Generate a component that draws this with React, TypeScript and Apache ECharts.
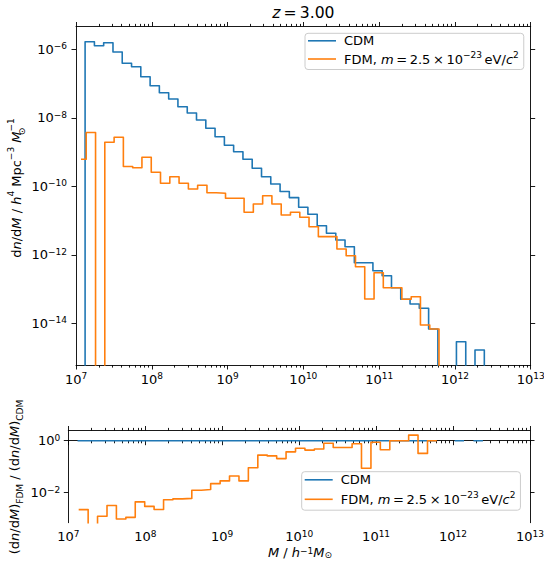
import React, { useEffect, useRef } from "react";
import * as echarts from "echarts";

// ---------- data (log10 values) ----------
// Bin edges, log10(M / h^-1 Msun)
const CDM_EDGES = [
  7.12, 7.243, 7.365, 7.488, 7.61, 7.733, 7.855, 7.978, 8.1, 8.223, 8.345,
  8.468, 8.59, 8.713, 8.835, 8.958, 9.08, 9.203, 9.325, 9.448, 9.57, 9.693,
  9.815, 9.938, 10.06, 10.183, 10.305, 10.428, 10.55, 10.673, 10.795, 10.918,
  11.04, 11.163, 11.285, 11.408, 11.53, 11.653, 11.775, 11.898, 12.02, 12.143,
  12.265, 12.388,
];
const FDM_EDGES = [
  7.135, 7.258, 7.38, 7.503, 7.625, 7.748, 7.87, 7.993, 8.115, 8.238, 8.36,
  8.483, 8.605, 8.728, 8.85, 8.973, 9.095, 9.218, 9.34, 9.463, 9.585, 9.708,
  9.83, 9.953, 10.075, 10.198, 10.32, 10.443, 10.565, 10.688, 10.81, 10.933,
  11.055, 11.178, 11.3, 11.423, 11.545, 11.668, 11.79,
];
// log10(dn/dM); null = empty bin
const CDM_LOG_DNDM: (number | null)[] = [
  -5.778, -5.895, -5.807, -6.079, -6.409, -6.508, -6.8, -7.063, -7.267, -7.451,
  -7.676, -7.86, -8.064, -8.307, -8.552, -8.803, -8.99, -9.212, -9.474, -9.72,
  -9.933, -10.15, -10.33, -10.613, -10.818, -11.15, -11.372, -11.568, -11.764,
  -12.231, -12.231, -12.464, -12.61, -12.961, -13.299, -13.437, -13.562,
  -14.166, null, null, -14.537, null, -14.779,
];
const FDM_LOG_DNDM: (number | null)[] = [
  -8.429, null, -8.715, -8.569, -9.422, -9.457, -9.153, -9.591, -9.912, -9.72,
  -9.912, -10.079, -9.971, -10.187, -10.204, -10.35, -10.35, -10.759, -10.517,
  -10.274, -10.517, -10.838, -10.759, -10.905, -11.18, -11.47, -11.47, -11.83,
  -12.026, -12.347, -13.29, -12.523, -12.961, -12.961, -13.3, -13.223, -14.05,
  -14.166,
];
// short leading FDM segment [log10 M start, log10 dn/dM]
const FDM_LEAD = [7.066, -9.212];

const TOP_Y_TICKS = [-14, -12, -10, -8, -6];
const RATIO_Y_TICKS = [-2, 0];

// ---------- styling ----------
const FONT = "DejaVu Sans";
const BLUE = "#1f77b4";
const ORANGE = "#ff7f0e";
const AX = "#000";
const FLOOR = -40; // below every axis: empty bins drop out of the plot

const rich = (lh: number, supLh = 11) => ({
  b: { fontFamily: FONT, fontSize: 13, lineHeight: lh, color: "#000", verticalAlign: "middle", fontWeight: "normal" },
  i: { fontFamily: FONT, fontSize: 13, lineHeight: lh, color: "#000", verticalAlign: "middle", fontStyle: "italic", fontWeight: "normal" },
  s: { fontFamily: FONT, fontSize: 9, lineHeight: supLh, color: "#000", verticalAlign: "top", fontWeight: "normal" },
  sub: { fontFamily: FONT, fontSize: 9, lineHeight: supLh, color: "#000", verticalAlign: "bottom", fontWeight: "normal" },
  sub0: { fontFamily: FONT, fontSize: 9, lineHeight: supLh, color: "#000", verticalAlign: "bottom", width: 0.1, fontWeight: "normal" },
});

const minorTicks: number[] = [];
for (let n = 7; n < 13; n++) for (let j = 2; j <= 9; j++) minorTicks.push(n + Math.log10(j));

const powLabel = (v: number) =>
  `{b|10}{s|${v < 0 ? "\u2212" + Math.abs(Math.round(v)) : Math.round(v)}}`;

function stepLine(edges: number[], vals: (number | null)[], lead?: number[]) {
  const pts: any[] = [];
  if (lead) pts.push([lead[0], lead[1]], [edges[0], lead[1]]);
  else pts.push([edges[0], FLOOR]);
  vals.forEach((v, i) => {
    const y = v == null ? FLOOR : v;
    pts.push([edges[i], y], [edges[i + 1], y]);
  });
  pts.push([edges[vals.length], FLOOR]);
  return pts;
}

// Ratio runs: contiguous bins where the CDM count is non-zero (ratio undefined elsewhere)
function ratioRuns(edges: number[], vals: (number | null)[], isFdm: boolean) {
  const runs: any[][] = [];
  let cur: any[] = [];
  vals.forEach((v, i) => {
    const c = CDM_LOG_DNDM[i];
    if (c == null) {
      if (cur.length) runs.push(cur);
      cur = [];
      return;
    }
    const y = isFdm ? (v == null ? FLOOR : v - c) : 0;
    cur.push([edges[i], y], [edges[i + 1], y]);
  });
  if (cur.length) runs.push(cur);
  return runs;
}

const tickStyle = (len: number) => ({ show: true, inside: false, length: len, lineStyle: { color: AX, width: 0.9 } });

function xAxes(grid: number) {
  const base = { type: "value", gridIndex: grid, min: 7, max: 13, interval: 1, splitLine: { show: false } };
  return [
    {
      ...base, position: "bottom",
      axisLine: { show: true, lineStyle: { color: AX, width: 0.9 } },
      axisTick: tickStyle(4.5),
      axisLabel: { show: true, margin: 6.5, formatter: (v: number) => powLabel(v), rich: rich(15, 8), showMinLabel: true, showMaxLabel: true },
    },
    {
      ...base, position: "bottom", axisLine: { show: false },
      axisTick: { ...tickStyle(2.6), customValues: minorTicks },
      axisLabel: { show: false },
    },
    {
      ...base, position: "top",
      axisLine: { show: true, lineStyle: { color: AX, width: 0.9 } },
      axisTick: tickStyle(4.5), axisLabel: { show: false },
    },
    {
      ...base, position: "top", axisLine: { show: false },
      axisTick: { ...tickStyle(2.6), customValues: minorTicks },
      axisLabel: { show: false },
    },
  ];
}

function yAxes(grid: number, min: number, max: number, ticks: number[], margin: number) {
  const base = { type: "value", gridIndex: grid, min, max, splitLine: { show: false } };
  return [
    {
      ...base, position: "left",
      axisLine: { show: true, lineStyle: { color: AX, width: 0.9 } },
      axisTick: { ...tickStyle(4.5), customValues: ticks },
      axisLabel: { show: true, margin, customValues: ticks, formatter: (v: number) => powLabel(v), rich: rich(15, 8) },
    },
    {
      ...base, position: "right",
      axisLine: { show: true, lineStyle: { color: AX, width: 0.9 } },
      axisTick: { ...tickStyle(4.5), customValues: ticks },
      axisLabel: { show: false },
    },
  ];
}

const lineSeries = (name: string, color: string, xi: number, yi: number, data: any[], z: number) => ({
  name, type: "line", xAxisIndex: xi, yAxisIndex: yi, data,
  showSymbol: false, symbol: "none", connectNulls: false, clip: true, z,
  lineStyle: { color, width: 1.6, join: "round" }, itemStyle: { color },
  emphasis: { disabled: true },
});

const fdmLegend = "{b|FDM, }{i|m}{b|\u2009=\u20092.5\u2009\u00d7\u200910}{s|\u221223}{b|\u2009eV/}{i|c}{s|2}";

const legendBase = (left: number, top: number, gap: number, pad: number[]) => ({
  data: ["CDM", "FDM"], left, top, orient: "vertical",
  icon: "rect", itemWidth: 28, itemHeight: 1.6, itemGap: gap, padding: pad,
  borderColor: "#cccccc", borderWidth: 1, borderRadius: 3,
  backgroundColor: "rgba(255,255,255,0.8)", selectedMode: false,
  formatter: (n: string) => (n === "CDM" ? "{b|CDM}" : fdmLegend),
  textStyle: { fontFamily: FONT, fontSize: 13, color: "#000", padding: [0, 0, 0, 3], rich: rich(18) },
});

const ratioSeries = [
  ...ratioRuns(CDM_EDGES, CDM_LOG_DNDM, false).map((d) => lineSeries("CDM", BLUE, 4, 2, d, 2)),
  ...ratioRuns(FDM_EDGES, FDM_LOG_DNDM, true).map((d) => lineSeries("FDM", ORANGE, 4, 2, d, 3)),
];

const option: any = {
  animation: false,
  backgroundColor: "#fff",
  title: {
    text: "{i|z}{n|\u2009=\u20093.00}", left: 303.4, textAlign: "center", top: 4, padding: 0,
    textStyle: {
      fontWeight: "normal",
      rich: {
        i: { fontFamily: FONT, fontSize: 15.6, fontStyle: "italic", fontWeight: "normal", color: "#000", lineHeight: 18 },
        n: { fontFamily: FONT, fontSize: 15.6, fontWeight: "normal", color: "#000", lineHeight: 18 },
      },
    },
  },
  grid: [
    { left: 76, top: 26.5, width: 454.7, height: 338.5, outerBoundsMode: "none", containLabel: false },
    { left: 68.3, top: 430.5, width: 461.7, height: 92.2, outerBoundsMode: "none", containLabel: false },
  ],
  xAxis: [...xAxes(0), ...xAxes(1)],
  yAxis: [
    ...yAxes(0, -15.218, -5.334, TOP_Y_TICKS, 9),
    ...yAxes(1, -3.154, 0.392, RATIO_Y_TICKS, 8),
  ],
  legend: [
    legendBase(305, 33.3, 2.7, [1, 5, 4, 3]),
    legendBase(301.7, 471.7, 4, [1.6, 5, 4.4, 3]),
  ],
  series: [
    lineSeries("CDM", BLUE, 0, 0, stepLine(CDM_EDGES, CDM_LOG_DNDM), 2),
    lineSeries("FDM", ORANGE, 0, 0, stepLine(FDM_EDGES, FDM_LOG_DNDM, FDM_LEAD), 3),
    ...ratioSeries,
  ],
  graphic: [
    {
      type: "text", x: 16.7, y: 188, rotation: Math.PI / 2,
      style: {
        text: "{b|d}{i|n}{b|/d}{i|M}{b| / }{i|h}{s|4}{b| Mpc}{s|\u22123}{b| }{i|M}{sub0|\u2299}{s|\u22121}",
        rich: rich(20), align: "center", verticalAlign: "middle",
      },
    },
    {
      type: "text", x: 14, y: 477, rotation: Math.PI / 2,
      style: {
        text: "{b|(d}{i|n}{b|/d}{i|M}{b|)}{sub|FDM}{b| / (d}{i|n}{b|/d}{i|M}{b|)}{sub|CDM}",
        rich: rich(20), align: "center", verticalAlign: "middle",
      },
    },
    {
      type: "text", x: 300, y: 552.5,
      style: {
        text: "{i|M}{b| / }{i|h}{s|\u22121}{i|M}{sub|\u2299}",
        rich: rich(13, 8), align: "center", verticalAlign: "middle",
      },
    },
  ],
};

export default function App() {
  const ref = useRef<HTMLDivElement>(null);
  useEffect(() => {
    if (!ref.current) return;
    const chart = echarts.init(ref.current, null, { renderer: "svg" });
    chart.setOption(option);
    return () => chart.dispose();
  }, []);
  return (
    <div
      ref={ref}
      style={{ position: "absolute", left: 0, top: 0, width: 544, height: 566, background: "#fff" }}
    />
  );
}
